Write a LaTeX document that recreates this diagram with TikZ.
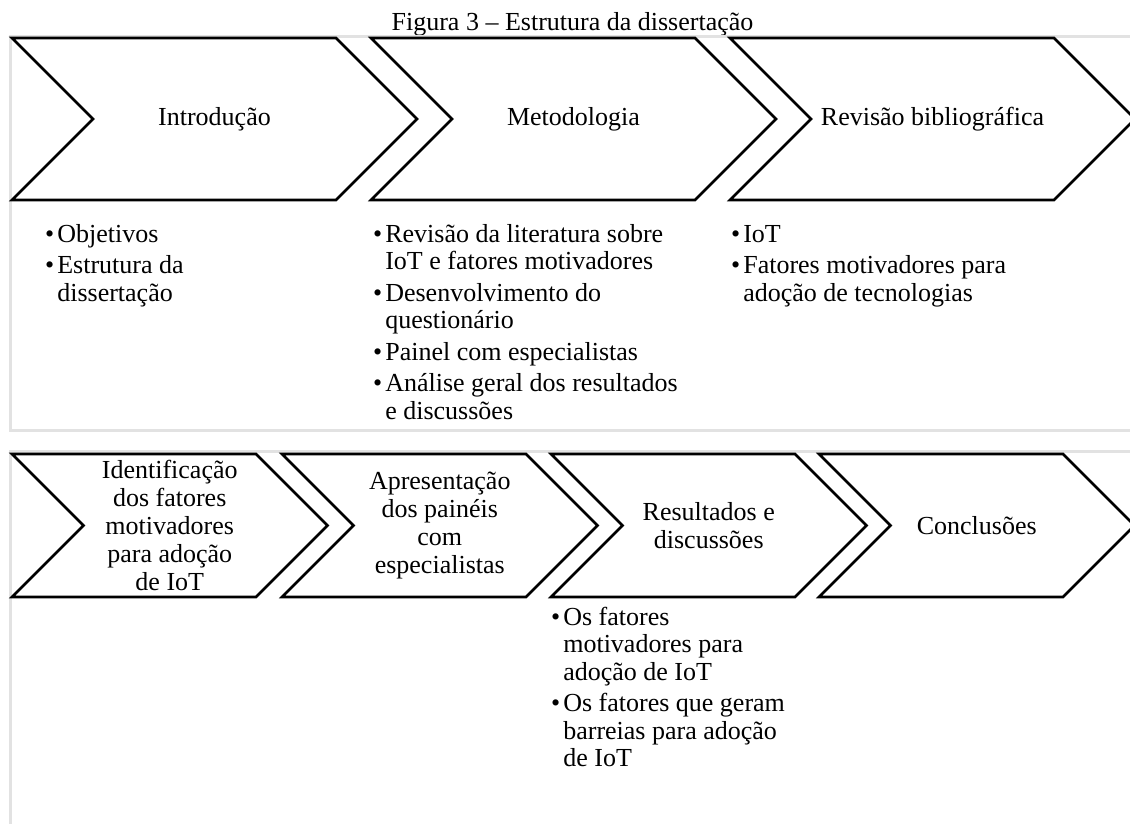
\documentclass[tikz,border=0pt]{standalone}
\usepackage{fontspec}
\setmainfont{Liberation Serif}
\definecolor{framegray}{RGB}{226,226,226}
\tikzset{
  frameline/.style={draw=framegray, line width=3pt},
  chevbox/.style={draw=black, line width=2.6pt, line join=miter, fill=white},
  chevtext/.style={font=\fontsize{26}{28}\selectfont, align=center, inner sep=0pt},
  bulletlist/.style={font=\fontsize{26}{27.5}\selectfont, inner sep=0pt, anchor=base west},
  captiontext/.style={font=\fontsize{26}{28}\selectfont, inner sep=0pt, anchor=base},
}
% chevron: name, left x, top y, bottom y, body width, label
\newcommand\chevron[6]{%
  \pgfmathsetmacro\chH{(#4-#3)/2}%
  \pgfmathsetmacro\chM{(#4+#3)/2}%
  \draw[chevbox] (#2,#3) -- ({#2+#5},#3) -- ({#2+#5+\chH},\chM) -- ({#2+#5},#4)
    -- (#2,#4) -- ({#2+\chH},\chM) -- cycle;
  \node[chevtext] (#1) at ({#2+(\chH+#5)/2},\chM) {#6};
}
\newcommand\bl{\textbullet}
\begin{document}
\begin{tikzpicture}[x=1pt, y=-1pt]
  \path[use as bounding box] (0,0) rectangle (1130,823);
  \clip (0,0) rectangle (1130,823);

  % caption
  \node[captiontext] (caption) at (572.5,30) {Figura 3 – Estrutura da dissertação};

  % light frames around the two rows
  \draw[frameline] (1135,36) -- (10,36) -- (10,430) -- (1135,430);
  \draw[frameline] (1135,451) -- (10,451) -- (10,830);

  % first row
  \chevron{intro}{12}{38}{200}{324}{Introdução}
  \chevron{metodo}{371}{38}{200}{324}{Metodologia}
  \chevron{revisao}{730}{38}{200}{324}{Revisão bibliográfica}

  \node[bulletlist] (introlist) at (45,242) {\begin{tabular}[t]{@{}l@{\hspace{3pt}}l@{}}
    \bl & Objetivos\\[4pt]
    \bl & Estrutura da\\
        & dissertação
  \end{tabular}};
  \node[bulletlist] (metodolist) at (373,242) {\begin{tabular}[t]{@{}l@{\hspace{3pt}}l@{}}
    \bl & Revisão da literatura sobre\\
        & IoT e fatores motivadores\\[4pt]
    \bl & Desenvolvimento do\\
        & questionário\\[4pt]
    \bl & Painel com especialistas\\[4pt]
    \bl & Análise geral dos resultados\\
        & e discussões
  \end{tabular}};
  \node[bulletlist] (revisaolist) at (731,242) {\begin{tabular}[t]{@{}l@{\hspace{3pt}}l@{}}
    \bl & IoT\\[4pt]
    \bl & Fatores motivadores para\\
        & adoção de tecnologias
  \end{tabular}};

  % second row
  \chevron{ident}{12}{454}{597}{244}{Identificação\\dos fatores\\motivadores\\para adoção\\de IoT}
  \chevron{paineis}{282}{454}{597}{244}{Apresentação\\dos painéis\\com\\especialistas}
  \chevron{result}{551}{454}{597}{244}{Resultados e\\discussões}
  \chevron{concl}{819}{454}{597}{244}{Conclusões}

  \node[bulletlist] (resultlist) at (551,625) {\begin{tabular}[t]{@{}l@{\hspace{3pt}}l@{}}
    \bl & Os fatores\\
        & motivadores para\\
        & adoção de IoT\\[4pt]
    \bl & Os fatores que geram\\
        & barreias para adoção\\
        & de IoT
  \end{tabular}};
\end{tikzpicture}
\end{document}
